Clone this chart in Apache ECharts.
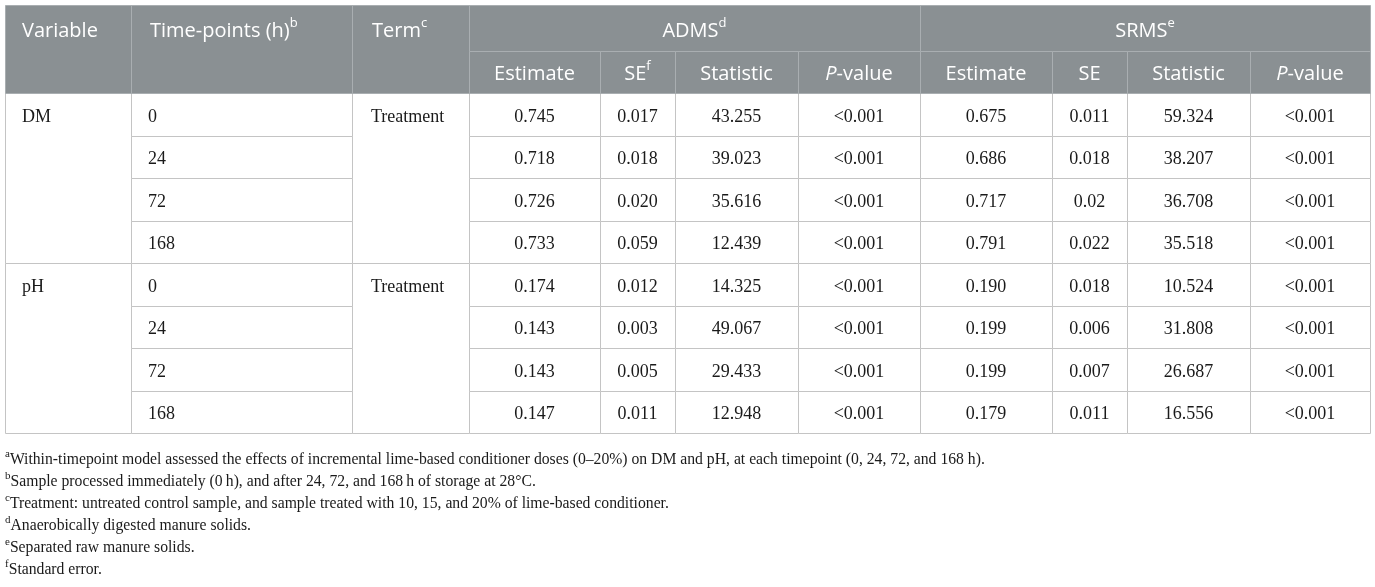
<!DOCTYPE html>
<html>
<head>
<meta charset="utf-8">
<script src="https://cdn.jsdelivr.net/npm/echarts@6/dist/echarts.min.js"></script>
<style>
html, body { margin: 0; padding: 0; background: #fff; }
#main { width: 1375px; height: 587px; }
</style>
</head>
<body>
<div id="main"></div>
<script>
// table content
var variables = ['DM', 'pH'];
var timePoints = ['0', '24', '72', '168'];
var termLabel = 'Treatment';
var topHeads = ['Variable', 'Time-points (h){sup|b}', 'Term{sup|c}'];
var groupHeads = ['ADMS{sup|d}', 'SRMS{sup|e}'];
var subHeadsAdms = ['Estimate', 'SE{sup|f}', 'Statistic', '{it|P}-value'];
var subHeadsSrms = ['Estimate', 'SE', 'Statistic', '{it|P}-value'];

var dmAdmsEstimate = ['0.745', '0.718', '0.726', '0.733'];
var dmAdmsSE = ['0.017', '0.018', '0.020', '0.059'];
var dmAdmsStatistic = ['43.255', '39.023', '35.616', '12.439'];
var dmAdmsP = ['<0.001', '<0.001', '<0.001', '<0.001'];
var dmSrmsEstimate = ['0.675', '0.686', '0.717', '0.791'];
var dmSrmsSE = ['0.011', '0.018', '0.02', '0.022'];
var dmSrmsStatistic = ['59.324', '38.207', '36.708', '35.518'];
var dmSrmsP = ['<0.001', '<0.001', '<0.001', '<0.001'];

var phAdmsEstimate = ['0.174', '0.143', '0.143', '0.147'];
var phAdmsSE = ['0.012', '0.003', '0.005', '0.011'];
var phAdmsStatistic = ['14.325', '49.067', '29.433', '12.948'];
var phAdmsP = ['<0.001', '<0.001', '<0.001', '<0.001'];
var phSrmsEstimate = ['0.190', '0.199', '0.199', '0.179'];
var phSrmsSE = ['0.018', '0.006', '0.007', '0.011'];
var phSrmsStatistic = ['10.524', '31.808', '26.687', '16.556'];
var phSrmsP = ['<0.001', '<0.001', '<0.001', '<0.001'];

var footnotes = [
    '{sup|a}Within-timepoint model assessed the effects of incremental lime-based conditioner doses (0\u201320%) on DM and pH, at each timepoint (0, 24, 72, and 168 h).',
    '{sup|b}Sample processed immediately (0\u2009h), and after 24, 72, and 168\u2009h of storage at 28\u00b0C.',
    '{sup|c}Treatment: untreated control sample, and sample treated with 10, 15, and 20% of lime-based conditioner.',
    '{sup|d}Anaerobically digested manure solids.',
    '{sup|e}Separated raw manure solids.',
    '{sup|f}Standard error.'
];

// layout (table units = pixels here)
var colWidths = [126, 221, 117, 131, 75, 123, 122, 132, 75, 123, 120];
var headRowH = [46, 42];
var bodyRowH = 42.5;
var headColor = '#8a9093';
var headLine = '#a9aeb1';
var bodyLine = '#c4c4c4';
var serif = "'Liberation Serif', 'DejaVu Serif', serif";
var sans = "'Open Sans', 'Noto Sans', sans-serif";

var edges = [0];
colWidths.forEach(function (w, i) { edges.push(edges[i] + w); });
var tableW = edges[edges.length - 1];
var headH = headRowH[0] + headRowH[1];
var tableH = headH + bodyRowH * variables.length * timePoints.length;

var groups = [
    {
        name: variables[0],
        cols: [dmAdmsEstimate, dmAdmsSE, dmAdmsStatistic, dmAdmsP, dmSrmsEstimate, dmSrmsSE, dmSrmsStatistic, dmSrmsP]
    },
    {
        name: variables[1],
        cols: [phAdmsEstimate, phAdmsSE, phAdmsStatistic, phAdmsP, phSrmsEstimate, phSrmsSE, phSrmsStatistic, phSrmsP]
    }
];

// build cell list
var cells = [];
function addCell(c0, c1, y0, y1, text, kind, align, textY, pad) {
    cells.push({
        x0: edges[c0], x1: edges[c1], y0: y0, y1: y1,
        text: text, kind: kind, align: align,
        tx: align === 'left' ? edges[c0] + pad : (edges[c0] + edges[c1]) / 2,
        ty: textY
    });
}

groups.forEach(function (g, gi) {
    var top = headH + gi * timePoints.length * bodyRowH;
    var bottom = top + timePoints.length * bodyRowH;
    addCell(0, 1, top, bottom, g.name, 'body', 'left', top + bodyRowH / 2, 17);
    addCell(2, 3, top, bottom, termLabel, 'body', 'left', top + bodyRowH / 2, 19);
    timePoints.forEach(function (tp, r) {
        var y0 = top + r * bodyRowH;
        addCell(1, 2, y0, y0 + bodyRowH, tp, 'body', 'left', y0 + bodyRowH / 2, 17);
        g.cols.forEach(function (col, ci) {
            addCell(3 + ci, 4 + ci, y0, y0 + bodyRowH, col[r], 'body', 'center', y0 + bodyRowH / 2, 0);
        });
    });
});

var pads = [17, 19, 20];
topHeads.forEach(function (t, i) {
    addCell(i, i + 1, 0, headH, t, 'head', 'left', headRowH[0] / 2 + 3, pads[i]);
});
groupHeads.forEach(function (t, i) {
    addCell(3 + i * 4, 7 + i * 4, 0, headRowH[0], t, 'head', 'center', headRowH[0] / 2 + 3, 0);
});
subHeadsAdms.concat(subHeadsSrms).forEach(function (t, i) {
    addCell(3 + i, 4 + i, headRowH[0], headH, t, 'head', 'center', headRowH[0] + headRowH[1] / 2 + 2, 0);
});

var headRich = {
    sup: { fontSize: 13, fontFamily: sans, fill: '#fff', verticalAlign: 'top' },
    it: { fontSize: 20, fontFamily: sans, fill: '#fff', fontStyle: 'italic' }
};

function renderCell(params, api) {
    var c = cells[api.value(2)];
    var p0 = api.coord([c.x0, c.y0]);
    var p1 = api.coord([c.x1, c.y1]);
    var pt = api.coord([c.tx, c.ty]);
    var x = Math.round(p0[0]) + 0.5, y = Math.round(p0[1]) + 0.5;
    var w = Math.round(p1[0]) - Math.round(p0[0]);
    var h = Math.round(p1[1]) - Math.round(p0[1]);
    var isHead = c.kind === 'head';
    return {
        type: 'group',
        children: [
            {
                type: 'rect',
                shape: { x: x, y: y, width: w, height: h },
                style: { fill: isHead ? headColor : '#fff', stroke: isHead ? headLine : bodyLine, lineWidth: 1 }
            },
            {
                type: 'text',
                style: {
                    x: pt[0], y: pt[1] + (isHead ? 0 : 3),
                    text: c.text,
                    align: c.align, verticalAlign: 'middle',
                    fill: isHead ? '#fff' : '#1a1a1a',
                    fontSize: isHead ? 20 : 18,
                    fontFamily: isHead ? sans : serif,
                    lineHeight: isHead ? 28 : 22,
                    rich: isHead ? headRich : {}
                }
            }
        ]
    };
}

var footRich = {
    sup: { fontSize: 11, fontFamily: serif, fill: '#1a1a1a', verticalAlign: 'top' }
};

var myChart = echarts.init(document.getElementById('main'), null, { renderer: 'canvas' });
var option = {
    animation: false,
    backgroundColor: '#fff',
    grid: { left: 5, top: 5, width: tableW, height: tableH },
    xAxis: { type: 'value', min: 0, max: tableW, show: false },
    yAxis: { type: 'value', min: 0, max: tableH, inverse: true, show: false },
    graphic: footnotes.map(function (t, i) {
        return {
            type: 'text',
            left: 5,
            top: 449 + i * 22,
            style: {
                text: t,
                rich: footRich,
                fontSize: 15.7,
                fontFamily: serif,
                fill: '#1a1a1a',
                lineHeight: 22
            }
        };
    }),
    series: [{
        type: 'custom',
        coordinateSystem: 'cartesian2d',
        renderItem: renderCell,
        encode: { x: 0, y: 1 },
        silent: true,
        data: cells.map(function (c, i) { return [c.x0, c.y0, i]; })
    }]
};
myChart.setOption(option);
</script>
</body>
</html>
